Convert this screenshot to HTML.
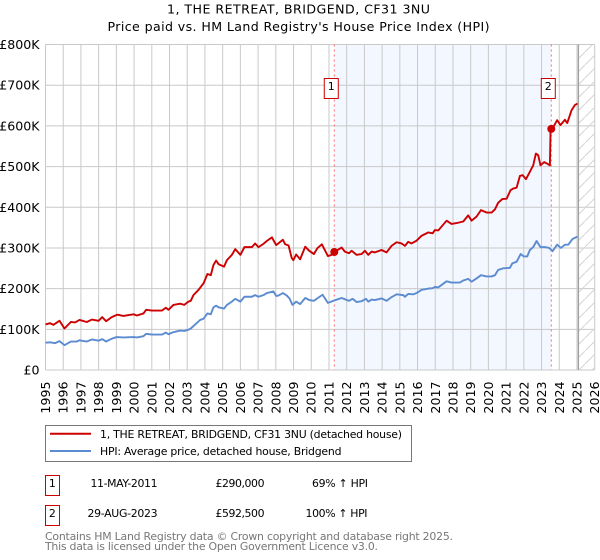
<!DOCTYPE html>
<html lang="en">
<head>
<meta charset="utf-8">
<title>1, THE RETREAT, BRIDGEND, CF31 3NU</title>
<style>
html,body{margin:0;padding:0;background:#fff;width:600px;height:560px;overflow:hidden}
svg{display:block;font-family:"DejaVu Sans","Liberation Sans",sans-serif}
text{fill:#000}
</style>
</head>
<body>
<svg id="chart" xmlns="http://www.w3.org/2000/svg" width="600" height="560" viewBox="0 0 600 560">
  <defs>
    <pattern id="hatch" width="13" height="13" patternUnits="userSpaceOnUse">
      <path d="M-1 14L14 -1" stroke="#d4d4d4" stroke-width="1" fill="none"/>
    </pattern>
  </defs>
  <text x="167" y="13.5" font-size="12.6" textLength="263">1, THE RETREAT, BRIDGEND, CF31 3NU</text>
  <text x="107.5" y="31" font-size="12.6" textLength="382">Price paid vs. HM Land Registry's House Price Index (HPI)</text>
  <g id="plot"></g>

  <rect x="45.5" y="425.5" width="366" height="36" fill="#fff" stroke="#777" stroke-width="1"/>
  <line x1="50" x2="91" y1="433.7" y2="433.7" stroke="#cc0000" stroke-width="2"/>
  <text x="100" y="438" font-size="10.9" textLength="302">1, THE RETREAT, BRIDGEND, CF31 3NU (detached house)</text>
  <line x1="50" x2="91" y1="451" y2="451" stroke="#5b8bd0" stroke-width="2"/>
  <text x="100" y="455" font-size="10.9" textLength="241.5">HPI: Average price, detached house, Bridgend</text>

  <rect x="45.5" y="475.5" width="14" height="20" fill="#fff" stroke="#cc0000" stroke-width="1"/>
  <text x="52.3" y="487" text-anchor="middle" font-size="10.9">1</text>
  <text x="90.5" y="487" font-size="10.9" textLength="67">11-MAY-2011</text>
  <text x="215.5" y="487" font-size="10.9" textLength="49">£290,000</text>
  <text x="312" y="487" font-size="10.9" textLength="56">69% ↑ HPI</text>

  <rect x="45.5" y="505.5" width="14" height="20" fill="#fff" stroke="#cc0000" stroke-width="1"/>
  <text x="52.3" y="517" text-anchor="middle" font-size="10.9">2</text>
  <text x="87.5" y="517" font-size="10.9" textLength="70">29-AUG-2023</text>
  <text x="215.5" y="517" font-size="10.9" textLength="49">£592,500</text>
  <text x="305.5" y="517" font-size="10.9" textLength="62">100% ↑ HPI</text>

  <text x="45" y="540" font-size="10.9" textLength="408" style="fill:#777">Contains HM Land Registry data © Crown copyright and database right 2025.</text>
  <text x="45" y="550" font-size="10.9" textLength="333" style="fill:#777">This data is licensed under the Open Government Licence v3.0.</text>
</svg>
<script>
const tickYears = [1995,1996,1997,1998,1999,2000,2001,2002,2003,2004,2005,2006,2007,2008,2009,2010,2011,2012,2013,2014,2015,2016,2017,2018,2019,2020,2021,2022,2023,2024,2025,2026];
const tickValues = [0,100,200,300,400,500,600,700,800];
const tickValueLabels = ['£0','£100K','£200K','£300K','£400K','£500K','£600K','£700K','£800K'];
const saleYears = [2011.30,2023.55];
const saleValues = [290,592.5];
const saleLabels = ['1','2'];
const forecastStart = [2025.08];
const priceYears = [
1995.00,1995.26,1995.45,1995.79,1996.07,1996.43,1996.67,1996.92,1997.33,1997.62,
1998.00,1998.20,1998.42,1998.74,1999.06,1999.40,1999.97,2000.16,2000.53,2000.68,
2001.00,2001.57,2001.79,2001.94,2002.22,2002.60,2002.83,2003.07,2003.20,2003.35,
2003.64,2003.92,2004.14,2004.33,2004.48,2004.63,2004.77,2005.08,2005.24,2005.52,
2005.71,2006.00,2006.23,2006.65,2006.83,2007.02,2007.30,2007.49,2007.78,2008.02,
2008.40,2008.53,2008.72,2008.90,2008.99,2009.15,2009.37,2009.66,2009.89,2010.15,
2010.34,2010.60,2010.94,2011.15,2011.30,2011.71,2011.90,2012.13,2012.28,2012.56,
2012.84,2013.03,2013.22,2013.41,2013.59,2013.97,2014.25,2014.53,2014.82,2015.10,
2015.29,2015.47,2015.66,2015.95,2016.23,2016.60,2016.85,2016.98,2017.17,2017.64,
2017.92,2018.20,2018.58,2018.86,2019.05,2019.33,2019.58,2019.90,2020.18,2020.37,
2020.55,2020.78,2021.03,2021.25,2021.40,2021.59,2021.78,2021.93,2022.12,2022.34,
2022.53,2022.68,2022.81,2022.94,2023.15,2023.32,2023.47,2023.51,2023.55,2023.66,
2023.88,2024.07,2024.32,2024.45,2024.69,2024.88,2025.03];
const priceValues = [
112,115,111,121,102,118,117,123,118,124,
121,130,120,130,136,133,137,134,139,148,
146,146,153,148,160,163,160,168,170,184,
197,213,236,233,258,269,260,254,270,283,
297,283,302,302,311,302,310,317,326,307,
320,309,306,275,270,284,272,303,293,285,
299,309,280,283,290,301,291,287,293,283,
285,293,283,291,289,295,289,305,314,311,
305,315,311,318,330,338,336,344,343,367,
359,361,365,380,367,377,393,387,387,395,
411,420,421,442,446,448,477,479,469,487,
503,532,528,503,511,507,503,591,592.5,597,
614,602,615,607,638,651,655];
const hpiYears = [
1995.00,1995.26,1995.55,1995.79,1996.07,1996.43,1996.77,1996.92,1997.33,1997.62,
1998.00,1998.20,1998.42,1998.74,1999.02,1999.40,1999.97,2000.16,2000.53,2000.68,
2001.00,2001.57,2001.79,2001.94,2002.22,2002.60,2002.83,2003.07,2003.20,2003.45,
2003.73,2003.92,2004.14,2004.33,2004.48,2004.63,2004.77,2005.08,2005.24,2005.52,
2005.71,2006.00,2006.23,2006.65,2006.83,2007.02,2007.30,2007.49,2007.87,2008.02,
2008.15,2008.40,2008.62,2008.77,2008.94,2009.15,2009.37,2009.66,2009.89,2010.15,
2010.34,2010.64,2010.94,2011.24,2011.71,2011.90,2012.13,2012.33,2012.56,2012.84,
2013.09,2013.22,2013.41,2013.59,2013.97,2014.25,2014.53,2014.82,2015.19,2015.29,
2015.47,2015.76,2015.98,2016.23,2016.60,2016.85,2016.98,2017.17,2017.64,2017.92,
2018.39,2018.58,2018.86,2019.05,2019.33,2019.58,2019.90,2020.18,2020.37,2020.55,
2020.84,2021.21,2021.35,2021.59,2021.82,2022.00,2022.19,2022.34,2022.53,2022.72,
2022.94,2023.19,2023.43,2023.62,2023.88,2024.09,2024.32,2024.51,2024.75,2025.03];
const hpiValues = [
67,68,66,71,61,70,70,73,70,75,
72,76,70,77,81,80,81,80,83,89,
87,87,92,88,93,97,96,99,102,112,
123,126,139,137,154,158,154,151,160,168,
175,168,180,180,184,180,184,189,193,182,
183,189,183,176,160,168,162,177,172,170,
176,185,165,170,177,174,170,175,167,169,
175,168,173,172,176,170,179,186,184,180,
187,186,190,197,200,201,204,203,218,215,
215,220,224,217,225,233,230,230,233,246,
250,251,262,266,285,279,279,295,302,317,
302,302,300,292,308,300,308,308,322,328];

const NS = 'http://www.w3.org/2000/svg';
const plot = document.getElementById('plot');
const LEFT = 45.5, RIGHT = 594.7, TOP = 44.5, BOTTOM = 370;
const x = yr => LEFT + (yr - tickYears[0]) / (tickYears[tickYears.length - 1] - tickYears[0]) * (RIGHT - LEFT);
const y = val => BOTTOM - val / tickValues[tickValues.length - 1] * (BOTTOM - TOP);
function mk(tag, attrs, text) {
  const el = document.createElementNS(NS, tag);
  for (const k in attrs) el.setAttribute(k, attrs[k]);
  if (text !== undefined) el.textContent = text;
  plot.appendChild(el);
  return el;
}
function linePath(xs, ys) {
  return xs.map((v, i) => (i ? 'L' : 'M') + x(v).toFixed(2) + ' ' + y(ys[i]).toFixed(2)).join('');
}

const shade = mk('rect', {x: x(saleYears[0]), y: TOP, width: x(saleYears[1]) - x(saleYears[0]), height: BOTTOM - TOP, fill: '#f3f7ff'});



tickValues.forEach((v, i) => {
  const g = mk('line', {x1: LEFT, x2: RIGHT, y1: y(v), y2: y(v), stroke: '#c9c9c9', 'stroke-width': 1});
  
  
  const t = mk('text', {x: 39.5, y: y(v) + 4.5, 'text-anchor': 'end', 'font-size': 12.6}, tickValueLabels[i]);
  
  
});
tickYears.forEach(v => {
  const g = mk('line', {x1: x(v), x2: x(v), y1: TOP, y2: BOTTOM, stroke: '#c9c9c9', 'stroke-width': 1});
  
  
  const bx = x(v) + 4.5;
  const t = mk('text', {x: bx, y: 381.5, 'text-anchor': 'end', 'font-size': 12.6, transform: 'rotate(-90 ' + bx + ' 381.5)'}, String(v));
  
  
});

const hatch = mk('rect', {x: x(forecastStart[0]), y: TOP, width: RIGHT - x(forecastStart[0]), height: BOTTOM - TOP, fill: 'url(#hatch)'});


const cut = mk('line', {x1: x(forecastStart[0]), x2: x(forecastStart[0]), y1: TOP, y2: BOTTOM, stroke: '#a0a0a0', 'stroke-width': 1.3});



saleYears.forEach(v => {
  const d = mk('line', {x1: x(v), x2: x(v), y1: TOP, y2: BOTTOM, stroke: '#ff6b6b', 'stroke-width': 1, 'stroke-dasharray': '2 3'});
  
  
});

const hpiLine = mk('path', {d: linePath(hpiYears, hpiValues), fill: 'none', stroke: '#5b8bd0', 'stroke-width': 1.9, 'stroke-linejoin': 'round'});


const priceLine = mk('path', {d: linePath(priceYears, priceValues), fill: 'none', stroke: '#cc0000', 'stroke-width': 1.9, 'stroke-linejoin': 'round'});



saleYears.forEach((v, i) => {
  const c = mk('circle', {cx: x(v), cy: y(saleValues[i]), r: 4, fill: '#cc0000'});
  
  
  const b = mk('rect', {x: x(v) - 10, y: 78.5, width: 14, height: 20, fill: '#fff', stroke: '#cc0000', 'stroke-width': 1});
  
  
  const t = mk('text', {x: x(v) - 3, y: 90, 'text-anchor': 'middle', 'font-size': 11}, saleLabels[i]);
  
  
});
</script>
</body>
</html>
